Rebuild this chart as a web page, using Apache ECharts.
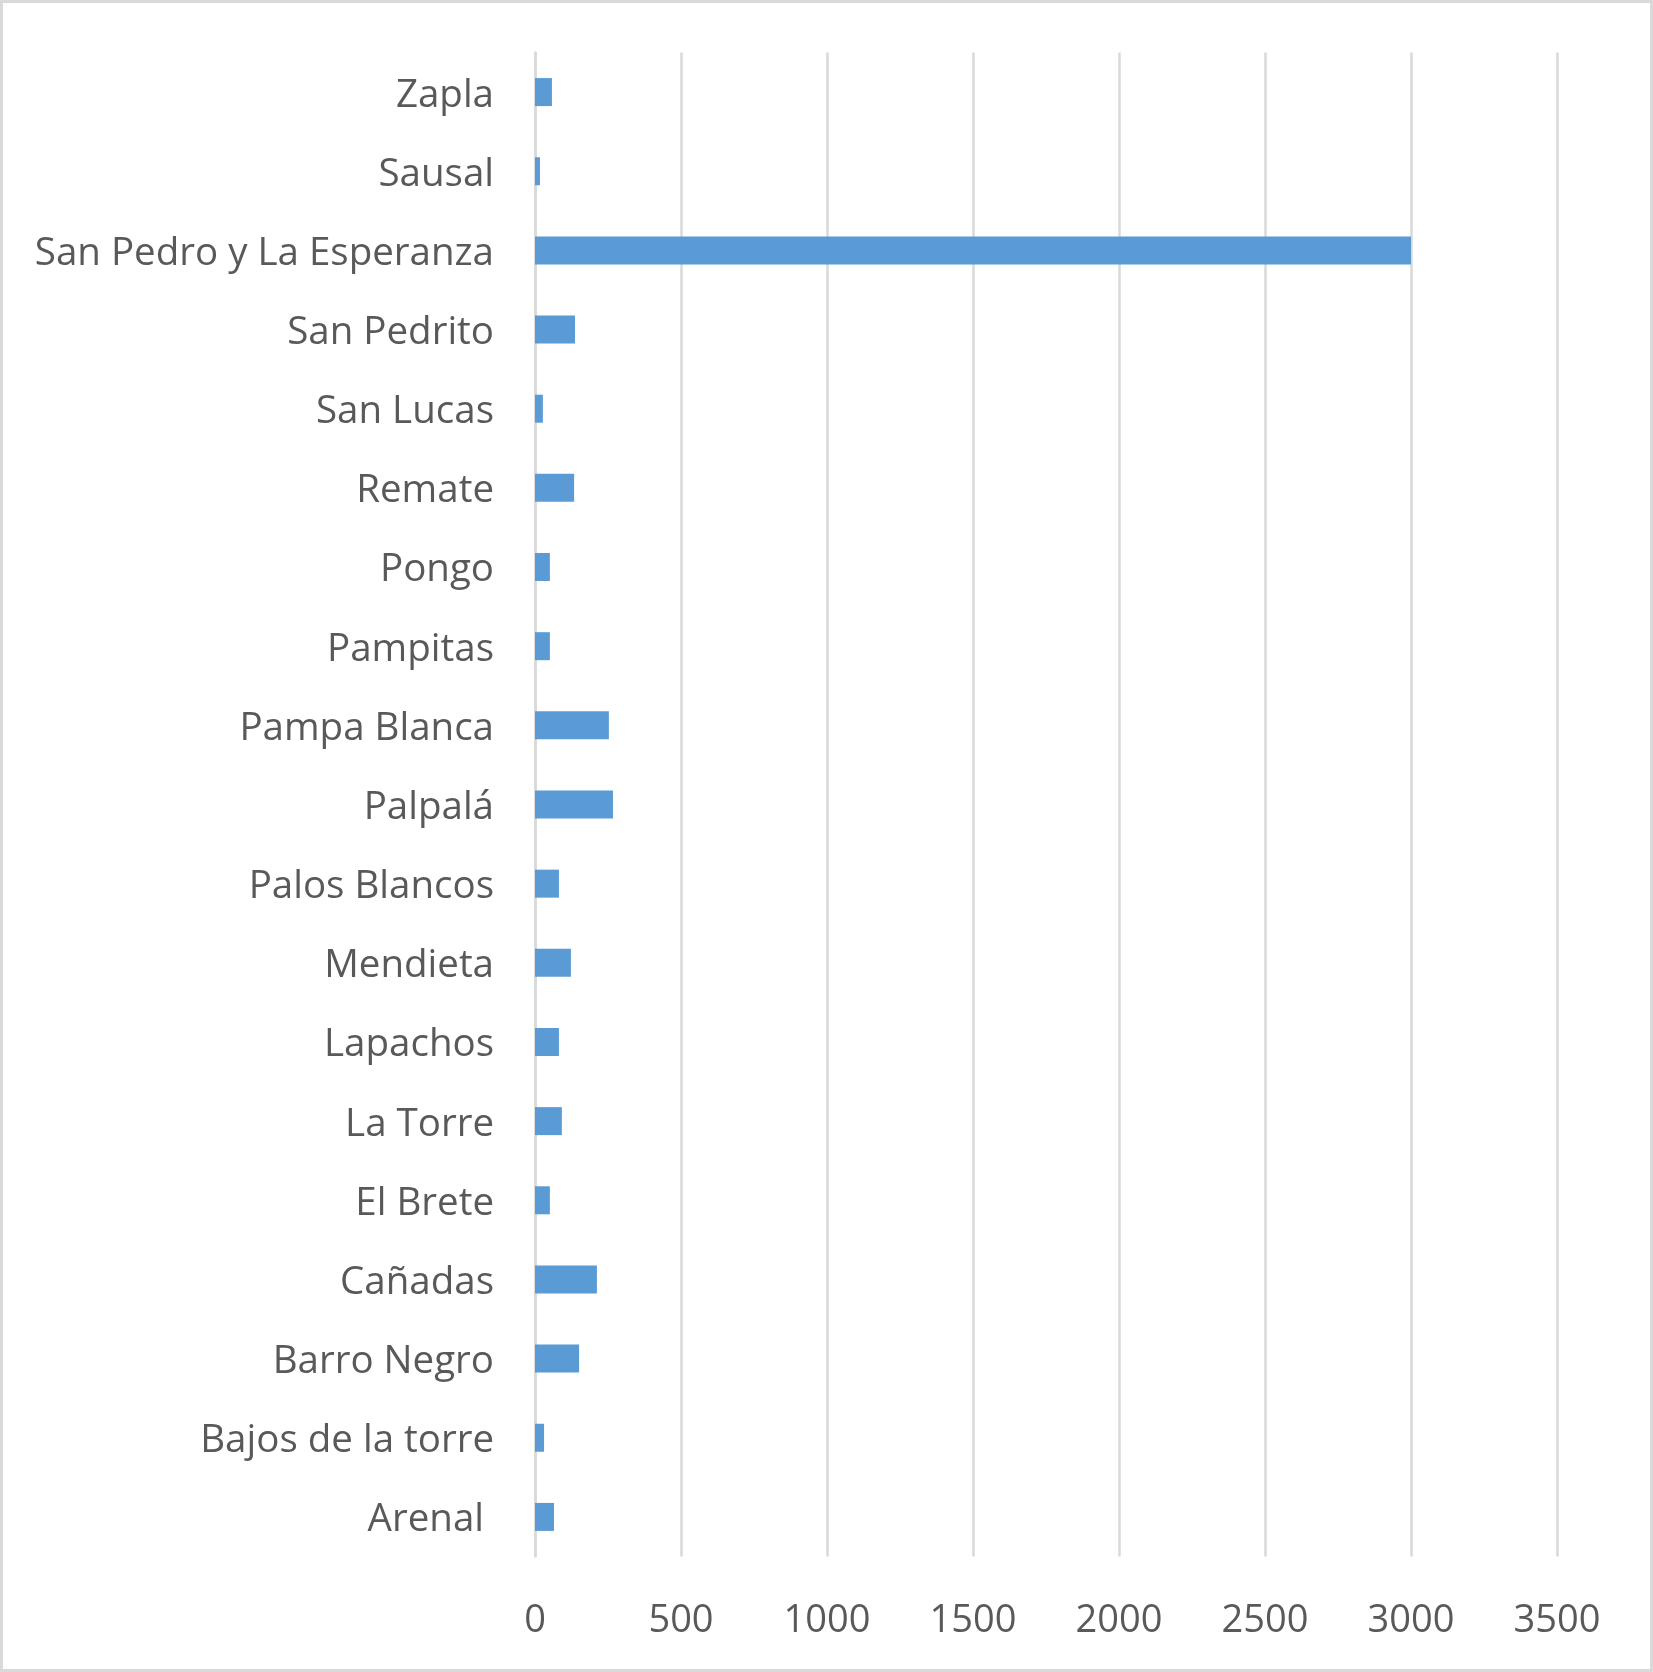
<!DOCTYPE html>
<html>
<head>
<meta charset="utf-8">
<script src="https://cdn.jsdelivr.net/npm/echarts@6/dist/echarts.min.js"></script>
<style>
html,body{margin:0;padding:0;background:#fff;}
#c{width:1653px;height:1672px;}
</style>
</head>
<body>
<div id="c"></div>
<script>
const categories = ["Arenal ", "Bajos de la torre", "Barro Negro", "Cañadas", "El Brete", "La Torre", "Lapachos", "Mendieta", "Palos Blancos", "Palpalá", "Pampa Blanca", "Pampitas", "Pongo", "Remate", "San Lucas", "San Pedrito", "San Pedro y La Esperanza", "Sausal", "Zapla"];
const values = [65, 31, 151, 212, 51, 92, 82, 123, 82, 267, 253, 51, 51, 134, 27, 137, 3000, 17, 58];
const xTicks = [0, 500, 1000, 1500, 2000, 2500, 3000, 3500];

const chart = echarts.init(document.getElementById('c'));
const fontFamily = '"Open Sans", "Noto Sans", sans-serif';
chart.setOption({
  animation: false,
  backgroundColor: '#ffffff',
  graphic: [{
    type: 'rect',
    shape: {x: 1.5, y: 1.5, width: 1650, height: 1669},
    style: {fill: 'none', stroke: '#d9d9d9', lineWidth: 3},
    silent: true
  }],
  grid: {left: 535, right: 96, top: 52.5, bottom: 115.5, containLabel: false},
  xAxis: {
    type: 'value',
    min: xTicks[0],
    max: xTicks[xTicks.length - 1],
    interval: xTicks[1] - xTicks[0],
    axisLine: {show: false},
    axisTick: {show: false},
    splitLine: {show: true, lineStyle: {color: '#d9d9d9', width: 2.5}},
    axisLabel: {color: '#595959', fontSize: 38, fontFamily: fontFamily, margin: 46,
      formatter: function (v) { return String(v); }}
  },
  yAxis: {
    type: 'category',
    data: categories,
    axisLine: {show: true, lineStyle: {color: '#d9d9d9', width: 2.5}},
    axisTick: {show: false},
    axisLabel: {
      margin: 41,
      formatter: function (v) { return '{a|' + v + '}'; },
      rich: {a: {color: '#595959', fontSize: 38.5, fontFamily: fontFamily, padding: [7, 0, 0, 0]}}
    }
  },
  series: [{
    type: 'bar',
    data: values,
    barWidth: 28,
    itemStyle: {color: '#5b9bd5'}
  }]
});
</script>
</body>
</html>
